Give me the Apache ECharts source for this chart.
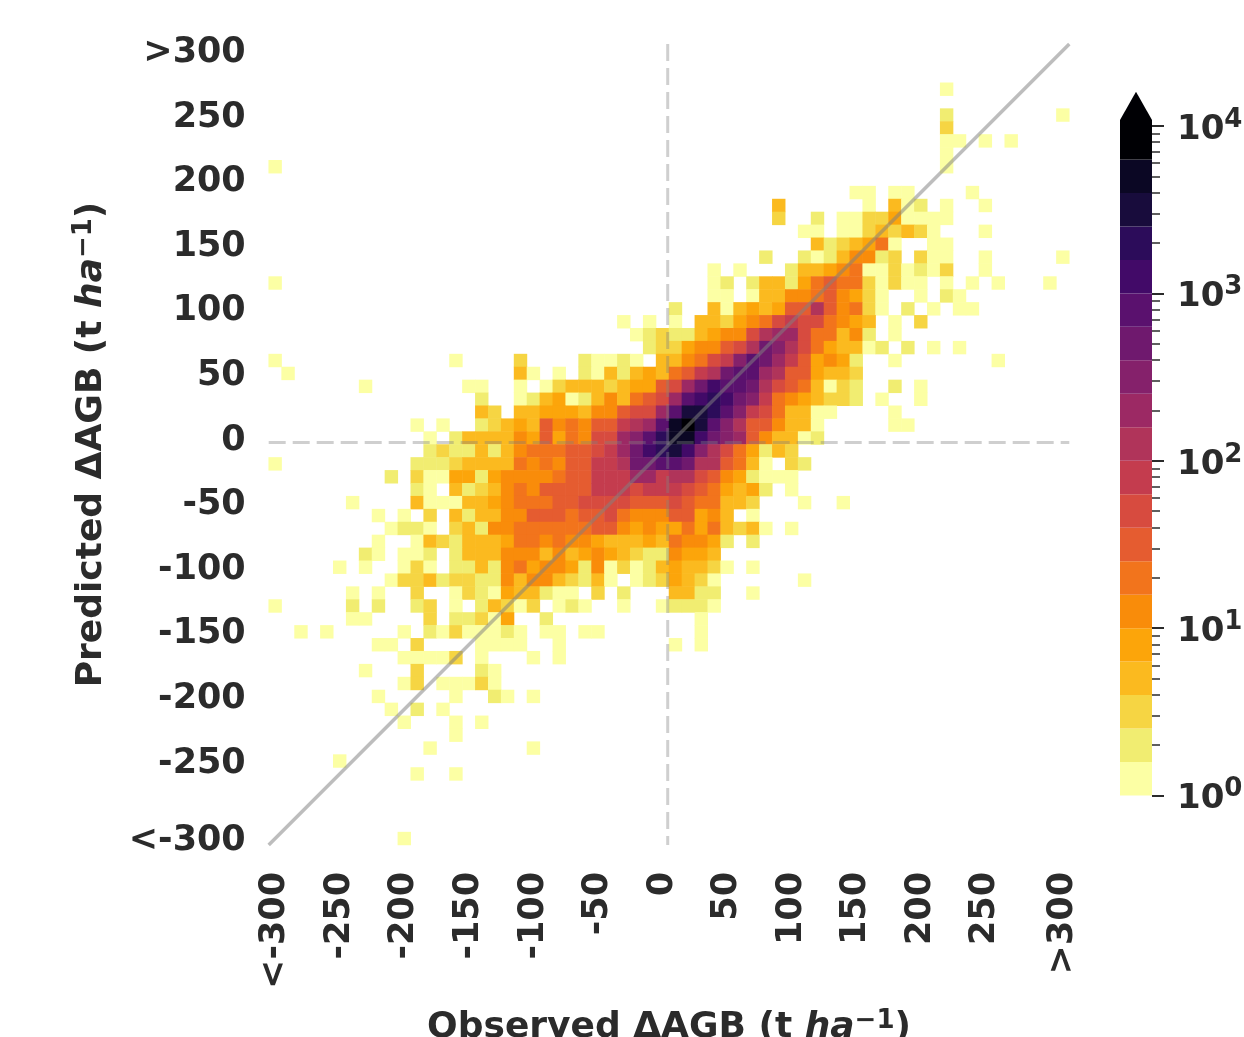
<!DOCTYPE html>
<html><head><meta charset="utf-8">
<script src="https://cdn.jsdelivr.net/npm/echarts@6/dist/echarts.min.js"></script>
<style>html,body{margin:0;padding:0;background:#fff}#c{width:1244px;height:1037px;filter:blur(0.7px)}</style>
</head><body><div id="c"></div>
<script>
// Tick labels: position in the 62-bin axis -> text
const xTickBins = [0,5,10,15,20,25,30,35,40,45,50,55,61];
const xTickText = ['<-300','-250','-200','-150','-100','-50','0','50','100','150','200','250','>300'];
const yTickBins = [0,5,10,15,20,25,30,35,40,45,50,55,61];
const yTickText = ['>300','250','200','150','100','50','0','-50','-100','-150','-200','-250','<-300'];
// Counts per row (row 0 = top). Each segment: [first column, count, count, ...]
const r03=[[52,1]];
const r05=[[52,2],[61,1]];
const r06=[[52,3]];
const r07=[[52,1,1],[55,1],[57,1]];
const r08=[[52,1]];
const r09=[[0,1],[52,1]];
const r11=[[45,1,1],[48,1,1],[54,1]];
const r12=[[39,5],[46,1],[48,5,1,2],[52,1],[55,1]];
const r13=[[39,3],[42,2],[44,1,1,3,3,8,1,1,1,1]];
const r14=[[41,1,1],[44,1,1,3,5,3,5,3,1],[55,1]];
const r15=[[42,5,2,3,5,8,20,1],[51,1,1]];
const r16=[[38,2],[41,2,1,2,5,12,12,2,3],[50,3,1,1],[55,1],[61,1]];
const r17=[[34,1],[36,1],[40,2,5,5,8,12,20,1,1,3,1,2,1,3],[55,1]];
const r18=[[0,1],[34,1,2],[37,2,5,5,2,8,20,32,20,20,3,1,3,1,1],[52,1],[54,1],[56,1],[60,1]];
const r19=[[34,1,1],[37,1,5,5,12,12,20,32,12,8,3,1],[50,1],[52,2,1]];
const r20=[[31,2],[34,5,1,5,8,5,8,32,32,125,32,12,20,3,1],[49,2],[51,1],[53,1,1]];
const r21=[[27,1],[29,1],[31,1],[33,5,5,3,8,12,20,50,80,50,50,20,12,8,5],[48,1],[50,3]];
const r22=[[28,1,2,3,2,2,5,8,12,12,50,125,200,200,50,20,20,5,12,2],[48,1]];
const r23=[[29,2,3,3,8,12,12,32,50,125,500,320,125,50,20,8,5,5,1,2],[49,2],[51,1],[53,1]];
const r24=[[0,1],[14,1],[19,3],[24,2,1,1,2,1],[30,5,5,12,20,50,80,320,800,500,200,80,32,8,12,8,2],[48,1],[56,1]];
const r25=[[1,1],[19,5,1],[22,1],[24,2,1,5,2,5,8,5,20,32,80,125,500,800,800,200,125,32,32,8,5,5,3]];
const r26=[[7,1],[15,1,1],[19,1],[21,1,3,5,5,5,3,5,8,8,32,50,200,500,1250,800,800,500,125,50,32,20,5,1,3,2],[48,2],[50,1]];
const r27=[[16,2],[19,1,2,5,8,1,2,5,12,5,20,32,50,200,800,1250,2000,1250,500,320,80,20,12,8,5,3,3,2],[47,1],[50,1]];
const r28=[[16,5,3],[19,5,5,8,8,8,5,12,12,32,50,50,200,800,3200,3200,2000,800,320,80,50,20,5,5,1,1],[48,1]];
const r29=[[11,1],[13,1],[16,2,3,5,8,5,32,12,20,12,32,32,80,125,200,800,5000,8000,3200,800,320,125,32,32,12,5,5,1],[48,1,1]];
const r30=[[12,1],[14,2,5,5,5,5,12,8,32,8,20,12,50,50,200,320,800,2000,5000,5000,1250,500,320,200,32,12,5,5,1,2]];
const r31=[[12,2,3,2,2,5,2,5,12,20,20,20,32,32,50,80,200,500,1250,2000,3200,1250,320,125,50,20,8,2,5,3]];
const r32=[[0,1],[11,2,2,2,3,5,5,5,5,20,12,20,12,32,32,80,80,125,500,500,800,800,500,125,125,32,20,5,1],[40,3,2]];
const r33=[[9,2],[11,3,1,1,8,8,2,8,12,12,12,12,20,32,32,80,80,80,200,200,80,125,125,50,32,12,8,2,1,1,1]];
const r34=[[11,2,1],[14,5,2,3,5,12,20,12,32,32,32,32,80,80,80,50,80,80,80,50,32,20,8,5,8,2],[40,1]];
const r35=[[6,1],[11,5,1,1,1,5,5,8,12,20,20,20,32,32,50,50,50,50,32,32,32,50,32,20,20,5,5,3],[41,1],[44,1]];
const r36=[[8,1],[10,1],[12,3],[14,5,2,5,5,12,12,32,32,32,20,32,32,50,20,12,12,12,32,32,8,12,5],[37,1]];
const r37=[[9,1,2,2,1],[14,3,5,2,12,12,20,20,20,20,20,20,32,32,12,8,12,8,8,20,8,20,5,3,5,1],[40,1]];
const r38=[[8,1],[11,1,5,3,2,5,5,5,8,20,20,12,20,12,12,8,5,5,5,8,5,20,12,12,8,2],[37,2]];
const r39=[[7,2,1],[10,1,1,2],[14,2,5,5,5,12,12,12,5,12,5,8,12,8,5,3,2,2,12,8,8,5]];
const r40=[[5,1],[7,1],[10,1,3,1],[14,2,2,5,2,12,20,8,12,12,8,2,12,1,3,1,2,5,8,5,5,3,1],[37,1]];
const r41=[[9,1,3,3,5,2,3,3,2,2,12,5,12,12,5,3,2,5,1],[28,1,2,3,8,5,3,1],[41,1]];
const r42=[[6,1],[8,1],[11,3],[14,1,3,2,1,8,5,5,2,1,1],[25,3],[27,2],[31,5,5,2,2],[37,1]];
const r43=[[0,1],[6,2],[8,2],[11,2,3],[14,1],[16,2,5,3,1,3],[22,1,2,1],[27,1],[30,1,2,2,2,1]];
const r44=[[6,1,1],[12,3],[14,2,2,3,1,8],[21,2],[33,1]];
const r45=[[2,1],[4,1],[10,1],[12,2,1,3,1,1,1,2,1],[21,1,1],[24,1,1],[33,1]];
const r46=[[8,1,1],[11,3],[16,1,1,1,1],[22,1],[31,1],[33,1]];
const r47=[[10,1,1,1,1,3],[16,1],[20,1],[22,1]];
const r48=[[7,1],[11,3],[16,2,1]];
const r49=[[10,1,3],[13,1,1,1,3,1]];
const r50=[[8,1],[14,1],[17,2,1],[20,1]];
const r51=[[9,1],[11,2],[13,1]];
const r52=[[10,1],[14,1],[16,1]];
const r53=[[14,1]];
const r54=[[12,1],[20,1]];
const r55=[[5,1]];
const r56=[[11,1],[14,1]];
const r61=[[10,1]];
const rowList=[[3,r03],[5,r05],[6,r06],[7,r07],[8,r08],[9,r09],[11,r11],[12,r12],[13,r13],[14,r14],[15,r15],[16,r16],[17,r17],[18,r18],[19,r19],[20,r20],[21,r21],[22,r22],[23,r23],[24,r24],[25,r25],[26,r26],[27,r27],[28,r28],[29,r29],[30,r30],[31,r31],[32,r32],[33,r33],[34,r34],[35,r35],[36,r36],[37,r37],[38,r38],[39,r39],[40,r40],[41,r41],[42,r42],[43,r43],[44,r44],[45,r45],[46,r46],[47,r47],[48,r48],[49,r49],[50,r50],[51,r51],[52,r52],[53,r53],[54,r54],[55,r55],[56,r56],[61,r61]];
// Colour bands (log scale, five per decade)
const bandEdges=[1,1.585,2.512,3.981,6.31,10,15.85,25.12,39.81,63.1,100,158.5,251.2,398.1,631,1000,1585,2512,3981,6310,10000];
const bandColors=['#fcffa4','#f1ed71','#f6d543','#fbba1f','#fca50a','#f98c0a','#f2741c','#e55c30','#d74b3f','#c43c4e','#b0345a','#9c2964','#85216b','#6f196e','#5a116e','#420a68','#2c0c5a','#180c3c','#0b0724','#000004'];
const minorTicks=[2,3,4,5,6,7,8,9,20,30,40,50,60,70,80,90,200,300,400,500,600,700,800,900,2000,3000,4000,5000,6000,7000,8000,9000];
const majorTicks=[1,10,100,1000,10000];
const arrowBase=10860, arrowTip=16000;
const dashX=-1, dashY=1.5, axisEnd=310;

const dark='#2b2b2b';
const xCats=Array.from({length:62},(_,i)=>{const k=xTickBins.indexOf(i);return k<0?'':xTickText[k];});
const yCats=Array.from({length:62},(_,i)=>{const k=yTickBins.indexOf(i);return k<0?'':yTickText[k];});
const cells=[];
rowList.forEach(([j,segs])=>segs.forEach(seg=>seg.slice(1).forEach((v,k)=>cells.push([seg[0]+k,j,v]))));
const bands=bandColors.map((c,i)=>[0,bandEdges[i],bandEdges[i+1],i]);
const nameBase={fontFamily:'DejaVu Sans',fontWeight:'bold',color:dark};
const nameRich={b:{...nameBase,fontSize:36,lineHeight:46},
                i:{...nameBase,fontStyle:'italic',fontSize:36,lineHeight:46},
                s:{...nameBase,fontSize:26,lineHeight:46,padding:[0,0,14,0]}};
const titleOf=w=>`{b|${w} ΔAGB (t }{i|ha}{s|−1}{b|)}`;
const tickFont={fontFamily:'DejaVu Sans',fontWeight:'bold',fontSize:35,color:dark};

const chart=echarts.init(document.getElementById('c'),null,{renderer:'canvas'});
chart.setOption({
  animation:false,backgroundColor:'#fff',
  grid:[{left:268.7,top:44,width:800.6,height:801,outerBoundsMode:'none'},
        {left:1120,top:126,width:32,height:669.5,outerBoundsMode:'none'}],
  xAxis:[
    {type:'category',gridIndex:0,data:xCats,axisLine:{show:false},axisTick:{show:false},splitLine:{show:false},
     axisLabel:{...tickFont,rotate:90,margin:27,interval:(i,v)=>v!==''},
     name:titleOf('Observed'),nameLocation:'middle',nameGap:160,nameTextStyle:{rich:nameRich}},
    {type:'value',gridIndex:0,min:-axisEnd,max:axisEnd,show:false},
    {type:'category',gridIndex:1,data:['band'],show:false}
  ],
  yAxis:[
    {type:'category',gridIndex:0,data:yCats,inverse:true,axisLine:{show:false},axisTick:{show:false},splitLine:{show:false},
     axisLabel:{margin:23,interval:(i,v)=>v!=='',formatter:v=>`{t|${v}}`,
       rich:{t:{...tickFont,lineHeight:44,padding:[5,0,0,0]}}},
     name:titleOf('Predicted'),nameLocation:'middle',nameGap:154,nameRotate:90,nameTextStyle:{rich:nameRich}},
    {type:'value',gridIndex:0,min:-axisEnd,max:axisEnd,show:false},
    {type:'log',gridIndex:1,position:'right',min:1,max:10000,logBase:10,axisLine:{show:false},splitLine:{show:false},
     axisTick:{show:true,length:12,lineStyle:{color:dark,width:2},customValues:majorTicks},
     axisLabel:{margin:25,customValues:majorTicks,
       formatter:v=>`{a|10}{s|${Math.round(Math.log10(v))}}`,
       rich:{a:{...nameBase,fontSize:34,lineHeight:44,padding:[8,0,0,0]},s:{...nameBase,fontSize:26,lineHeight:44,padding:[0,0,12,0]}}}},
    {type:'log',gridIndex:1,position:'right',min:1,max:10000,logBase:10,axisLine:{show:false},splitLine:{show:false},
     axisTick:{show:true,length:8,lineStyle:{color:dark,width:1.5},customValues:minorTicks},
     axisLabel:{show:false}}
  ],
  visualMap:{show:false,type:'piecewise',seriesIndex:0,dimension:2,
    pieces:bandColors.map((c,i)=>({gte:bandEdges[i],lt:i===19?1e9:bandEdges[i+1],color:c}))},
  series:[
    {type:'heatmap',xAxisIndex:0,yAxisIndex:0,data:cells,progressive:0,itemStyle:{borderWidth:0},emphasis:{disabled:true},silent:true,z:1},
    {type:'line',xAxisIndex:1,yAxisIndex:1,data:[[-axisEnd,-axisEnd],[axisEnd,axisEnd]],showSymbol:false,symbol:'none',silent:true,z:5,
     lineStyle:{color:'rgba(128,128,128,0.52)',width:3.5}},
    {type:'line',xAxisIndex:1,yAxisIndex:1,data:[[dashX,axisEnd],[dashX,-axisEnd]],showSymbol:false,symbol:'none',silent:true,z:5,
     lineStyle:{color:'rgba(128,128,128,0.38)',width:3,type:[17,7]}},
    {type:'line',xAxisIndex:1,yAxisIndex:1,data:[[-axisEnd,dashY],[axisEnd,dashY]],showSymbol:false,symbol:'none',silent:true,z:5,
     lineStyle:{color:'rgba(128,128,128,0.38)',width:3,type:[17,7]}},
    {type:'custom',xAxisIndex:2,yAxisIndex:2,data:bands,silent:true,clip:false,
     encode:{x:0,y:[1,2]},
     renderItem:(p,api)=>{
       const lo=api.coord([0,api.value(1)]),hi=api.coord([0,api.value(2)]);
       const w=api.size([1,0])[0],idx=api.value(3);
       const rect={type:'rect',shape:{x:lo[0]-w/2,y:hi[1],width:w,height:lo[1]-hi[1]},style:{fill:bandColors[idx]}};
       if(idx<bandColors.length-1) return rect;
       const b=api.coord([0,arrowBase]),t=api.coord([0,arrowTip]);
       return {type:'group',children:[rect,{type:'polygon',shape:{points:[[lo[0]-w/2,hi[1]+1],[lo[0]-w/2,b[1]],[lo[0],t[1]],[lo[0]+w/2,b[1]],[lo[0]+w/2,hi[1]+1]]},style:{fill:bandColors[idx]}}]};
     }}
  ]
});
</script></body></html>
